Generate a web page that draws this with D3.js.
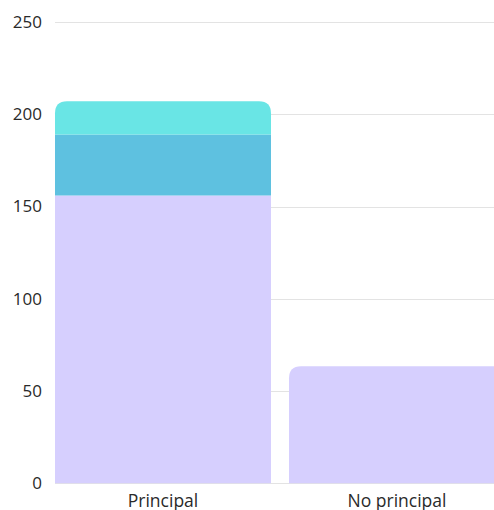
<!DOCTYPE html>
<html><head><meta charset="utf-8">
<script src="https://cdn.jsdelivr.net/npm/d3@7"></script>
<style>html,body{margin:0;padding:0;background:#fff;overflow:hidden}</style>
</head><body>
<svg id="chart" width="494" height="510"></svg>
<script>
const categories = ["Principal", "No principal"];
const seriesNames = ["A", "B", "C"];
const seriesA = [156, 63.5];
const seriesB = [33, 0];
const seriesC = [18, 0];
const colors = ["#d6cffe", "#5ec1e0", "#69e5e5"];
const yTicks = [0, 50, 100, 150, 200, 250];

const svg = d3.select("#chart");
const y = d3.scaleLinear().domain([0, 250]).range([483.3, 22]);
const x = d3.scaleBand().domain(categories).range([55, 505]).paddingInner(0.077).paddingOuter(0);

// gridlines
svg.append("g").selectAll("line").data(yTicks).join("line")
  .attr("x1", 55).attr("x2", 494)
  .attr("y1", d => Math.round(y(d)) + 0.5).attr("y2", d => Math.round(y(d)) + 0.5)
  .attr("stroke", "#e3e3e3").attr("stroke-width", 1);

// y tick labels
svg.append("g").selectAll("text").data(yTicks).join("text")
  .attr("x", 42).attr("y", d => y(d)).attr("dy", "0.35em")
  .attr("text-anchor", "end")
  .attr("font-family", "'Open Sans', sans-serif").attr("font-size", 17)
  .attr("fill", "#2a2a2a").text(d => d);

// stacks
const rows = categories.map((c, i) => ({cat: c, A: seriesA[i], B: seriesB[i], C: seriesC[i]}));
const stacked = d3.stack().keys(seriesNames)(rows);
const tops = rows.map(r => {
  let k = -1;
  seriesNames.forEach((s, j) => { if (r[s] > 0) k = j; });
  return k;
});

function barPath(x0, w, y0, y1, r) {
  r = Math.min(r, (y0 - y1), w / 2);
  return `M${x0},${y0}V${y1 + r}Q${x0},${y1} ${x0 + r},${y1}H${x0 + w - r}Q${x0 + w},${y1} ${x0 + w},${y1 + r}V${y0}Z`;
}

stacked.forEach((layer, j) => {
  svg.append("g").selectAll("path").data(layer).join("path")
    .attr("fill", colors[j])
    .attr("d", (d, i) => {
      if (d[1] - d[0] <= 0) return null;
      const x0 = x(categories[i]), w = x.bandwidth();
      const rad = tops[i] === j ? 12 : 0;
      return barPath(x0, w, y(d[0]), y(d[1]), rad);
    });
});

// x labels
svg.append("g").selectAll("text").data(categories).join("text")
  .attr("x", d => x(d) + x.bandwidth() / 2).attr("y", 507)
  .attr("text-anchor", "middle")
  .attr("font-family", "'Open Sans', sans-serif").attr("font-size", 17.5)
  .attr("fill", "#2a2a2a").text(d => d);
</script>
</body></html>
